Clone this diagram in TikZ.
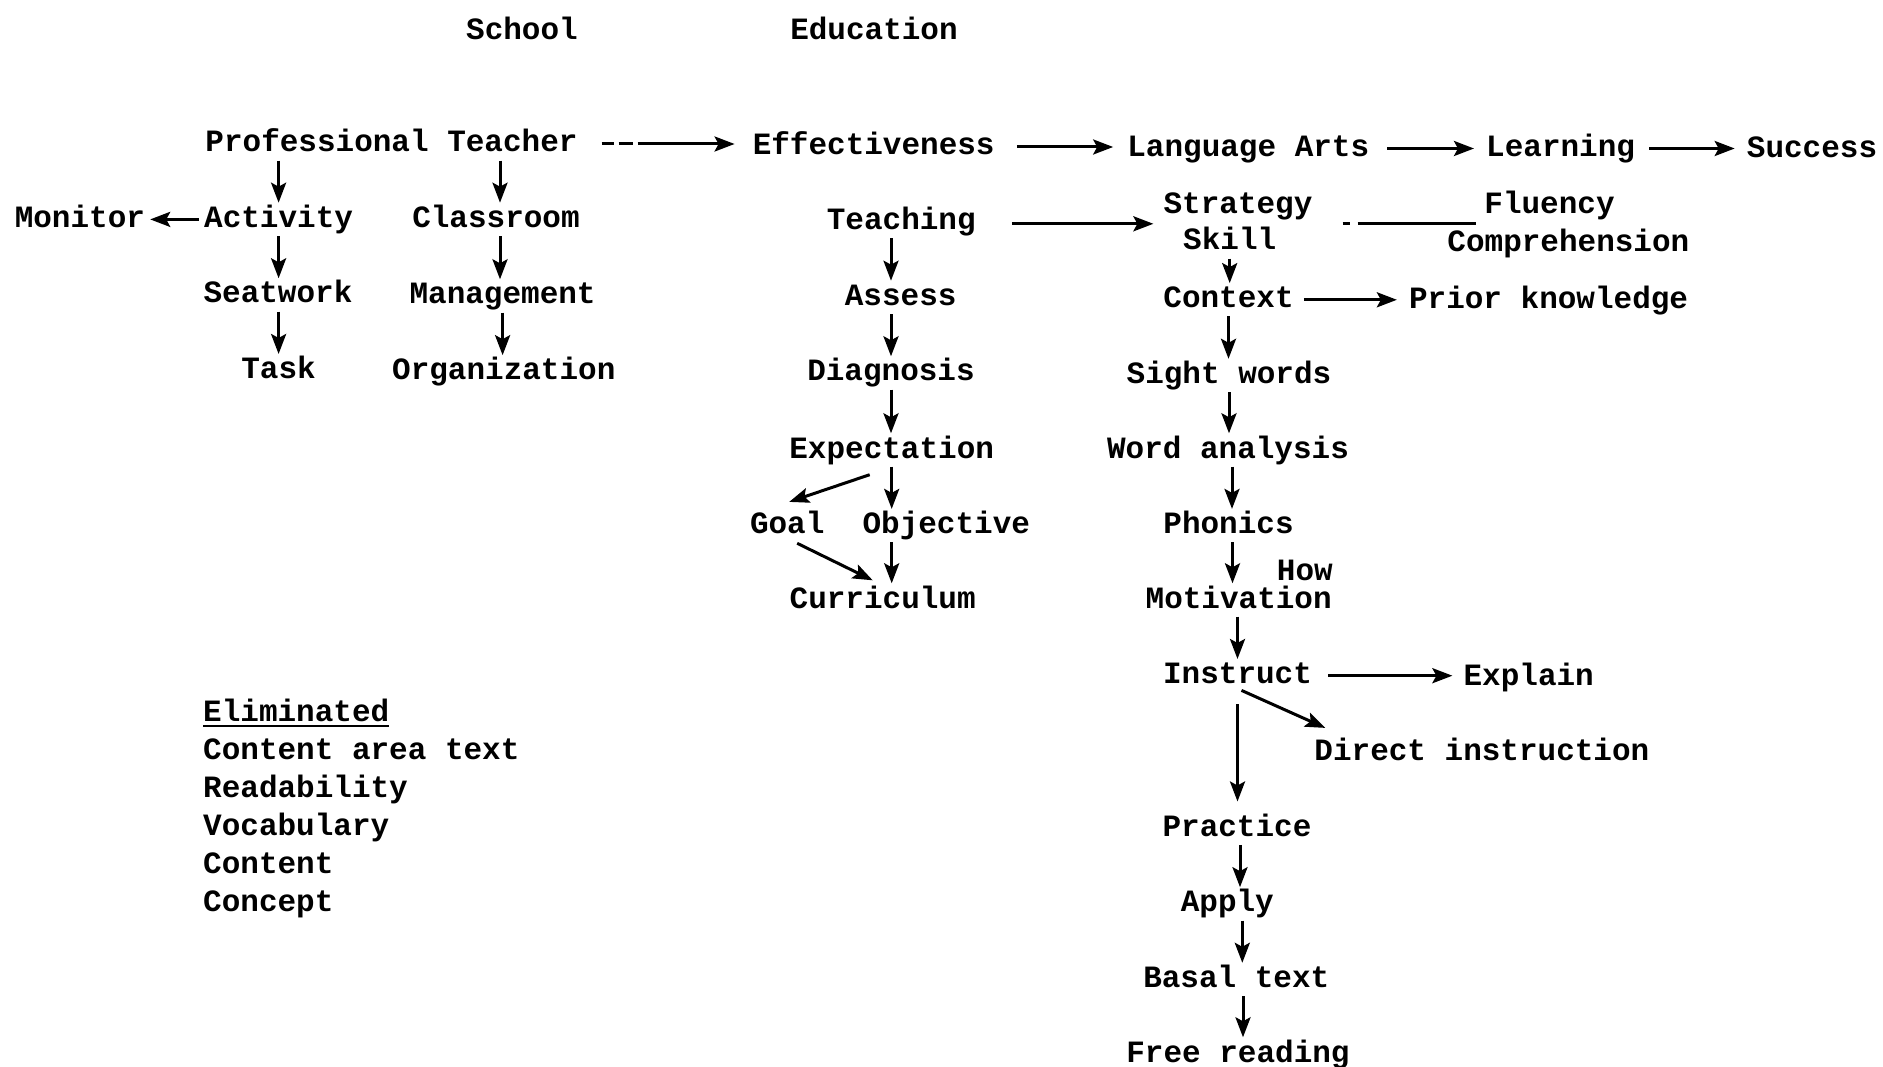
\documentclass[tikz,border=0pt]{standalone}
\usepackage{fontspec}
\newfontfamily\twfont{Liberation Mono}
\usetikzlibrary{arrows.meta,calc}
\tikzset{
  lbl/.style={inner xsep=0pt, inner ysep=3.5pt, text height=21pt, text depth=5pt,
    font=\twfont\bfseries\fontsize{31}{36}\selectfont, anchor=base},
  lft/.style={lbl, anchor=base west},
  arr/.style={line width=3pt, -{Stealth[length=20pt,width=15pt,inset=4pt]}},
  plain/.style={line width=3pt}
}
\begin{document}
\begin{tikzpicture}[x=1pt,y=-1pt]
\useasboundingbox[fill=white] (0,0) rectangle (1883,1067);
% headings
\node[lbl] (school) at (522,40) {School};
\node[lbl] (educ) at (874,40) {Education};
% top row
\node[lbl] (pt) at (391.5,152) {Professional Teacher};
\node[lbl] (eff) at (873.7,155) {Effectiveness};
\node[lbl] (la) at (1248.3,156.5) {Language Arts};
\node[lbl] (lrn) at (1560.6,156.5) {Learning};
\node[lbl] (suc) at (1812,157.7) {Success};
% school column
\node[lbl] (mon) at (79.9,227.4) {Monitor};
\node[lbl] (act) at (278.6,227.4) {Activity};
\node[lbl] (cls) at (496,227.4) {Classroom};
\node[lbl] (seat) at (278,303) {Seatwork};
\node[lbl] (mgmt) at (502.6,304) {Management};
\node[lbl] (task) at (278.6,378.7) {Task};
\node[lbl] (org) at (503.8,379.9) {Organization};
% education column
\node[lbl] (teach) at (901.3,229.8) {Teaching};
\node[lbl] (assess) at (900.7,305.4) {Assess};
\node[lbl] (diag) at (891,381) {Diagnosis};
\node[lbl] (exp) at (891.7,458) {Expectation};
\node[lbl] (goal) at (787.2,533.6) {Goal};
\node[lbl] (obj) at (946.3,533.6) {Objective};
\node[lbl] (cur) at (882.7,608) {Curriculum};
% language arts column
\node[lbl] (strat) at (1238,214) {Strategy};
\node[lbl] (skill) at (1229.7,250) {Skill};
\node[lbl] (flu) at (1549.5,214) {Fluency};
\node[lbl] (comp) at (1568.4,251.4) {Comprehension};
\node[lbl] (ctx) at (1228.5,307.8) {Context};
\node[lbl] (prior) at (1548.6,309) {Prior knowledge};
\node[lbl] (sight) at (1229,383.5) {Sight words};
\node[lbl] (word) at (1228,458) {Word analysis};
\node[lbl] (phon) at (1228.5,533.6) {Phonics};
\node[lbl, text depth=0pt, inner ysep=0pt] (how) at (1304.8,580) {How};
\node[lbl] (mot) at (1238.7,608) {Motivation};
\node[lbl] (ins) at (1237.5,683.7) {Instruct};
\node[lbl] (expl) at (1528.7,685) {Explain};
\node[lbl] (dir) at (1481.9,760.6) {Direct instruction};
\node[lbl] (prac) at (1237,836.2) {Practice};
\node[lbl] (apply) at (1227.3,911.9) {Apply};
\node[lbl] (basal) at (1236.3,987.5) {Basal text};
\node[lbl] (free) at (1238,1062) {Free reading};
% eliminated list
\node[lft] (elim) at (203,721) {Eliminated};
\node[lft] (e1) at (203,759.4) {Content area text};
\node[lft] (e2) at (203,797.8) {Readability};
\node[lft] (e3) at (203,835) {Vocabulary};
\node[lft] (e4) at (203,873.4) {Content};
\node[lft] (e5) at (203,911.9) {Concept};
\draw[line width=1.8pt] ($(elim.base west)+(0,5)$) -- ($(elim.base east)+(0,5)$);

% top row arrows
\draw[arr, shorten <=24pt, shorten >=18pt, dash pattern=on 12pt off 5pt on 14pt off 5pt on 200pt] (pt.east) -- (pt.east -| eff.west);
\draw[arr, shorten <=22pt, shorten >=14pt] (eff.east) -- (eff.east -| la.west);
\draw[arr, shorten <=18pt, shorten >=12pt] (la.east) -- (la.east -| lrn.west);
\draw[arr, shorten <=14pt, shorten >=12pt] (lrn.east) -- (lrn.east -| suc.west);
% school column arrows
\draw[arr] (pt.south -| act.north) -- (act.north);
\draw[arr] ($(pt.south -| cls.north)+(4,0)$) -- ($(cls.north)+(4,0)$);
\draw[arr, shorten <=5pt, shorten >=5pt] (act.west) -- (act.west -| mon.east);
\draw[arr] (act.south) -- (act.south |- seat.north);
\draw[arr] ($(cls.south)+(4,0)$) -- ($(cls.south |- mgmt.north)+(4,0)$);
\draw[arr] (task.north |- seat.south) -- (task.north);
\draw[arr] (mgmt.south) -- (mgmt.south |- org.north);
% education column arrows
\draw[arr] (teach.south -| diag.north) -- (assess.north -| diag.north);
\draw[arr] (assess.south -| diag.north) -- (diag.north);
\draw[arr] (diag.south) -- (diag.south |- exp.north);
\draw[arr] (exp.south) -- (exp.south |- obj.north);
\draw[arr] ($(exp.south)+(-22,8)$) -- ($(goal.north)+(2,-7)$);
\draw[arr] ($(goal.south)+(10,1)$) -- ($(cur.north)+(-10,-3)$);
\draw[arr] (exp.south |- obj.south) -- (exp.south |- cur.north);
\draw[arr, shorten <=36pt, shorten >=10pt] ($(teach.east)+(0,2)$) -- ($(teach.east -| strat.west)+(0,2)$);
% language arts arrows
\draw[plain, shorten <=30pt, dash pattern=on 7pt off 8pt on 300pt] ($(teach.east -| strat.east)+(0,2)$) -- ($(teach.east -| flu.west)+(-8,2)$);
\draw[arr] (skill.south) -- (skill.south |- ctx.north);
\draw[arr, shorten <=10pt, shorten >=12pt] (ctx.east) -- (ctx.east -| prior.west);
\draw[arr] (ctx.south) -- (ctx.south |- sight.north);
\draw[arr] (sight.south) -- (sight.south |- word.north);
\draw[arr] ($(word.south)+(4,0)$) -- ($(word.south |- phon.north)+(4,0)$);
\draw[arr] ($(phon.south)+(4,0)$) -- ($(phon.south |- mot.north)+(4,0)$);
\draw[arr] (ins.north |- mot.south) -- (ins.north);
\draw[arr, shorten <=16pt, shorten >=11pt] (ins.east) -- (ins.east -| expl.west);
\draw[arr] ($(ins.south)+(4,-2)$) -- ($(dir.north west)+(11,-8)$);
\draw[arr, shorten <=12pt, shorten >=10pt] (ins.south) -- (ins.south |- prac.north);
\draw[arr] ($(prac.south)+(3,0)$) -- ($(prac.south |- apply.north)+(3,0)$);
\draw[arr] ($(basal.north |- apply.south)+(6,0)$) -- ($(basal.north)+(6,0)$);
\draw[arr] ($(free.north |- basal.south)+(5,0)$) -- ($(free.north)+(5,0)$);
\end{tikzpicture}
\end{document}
